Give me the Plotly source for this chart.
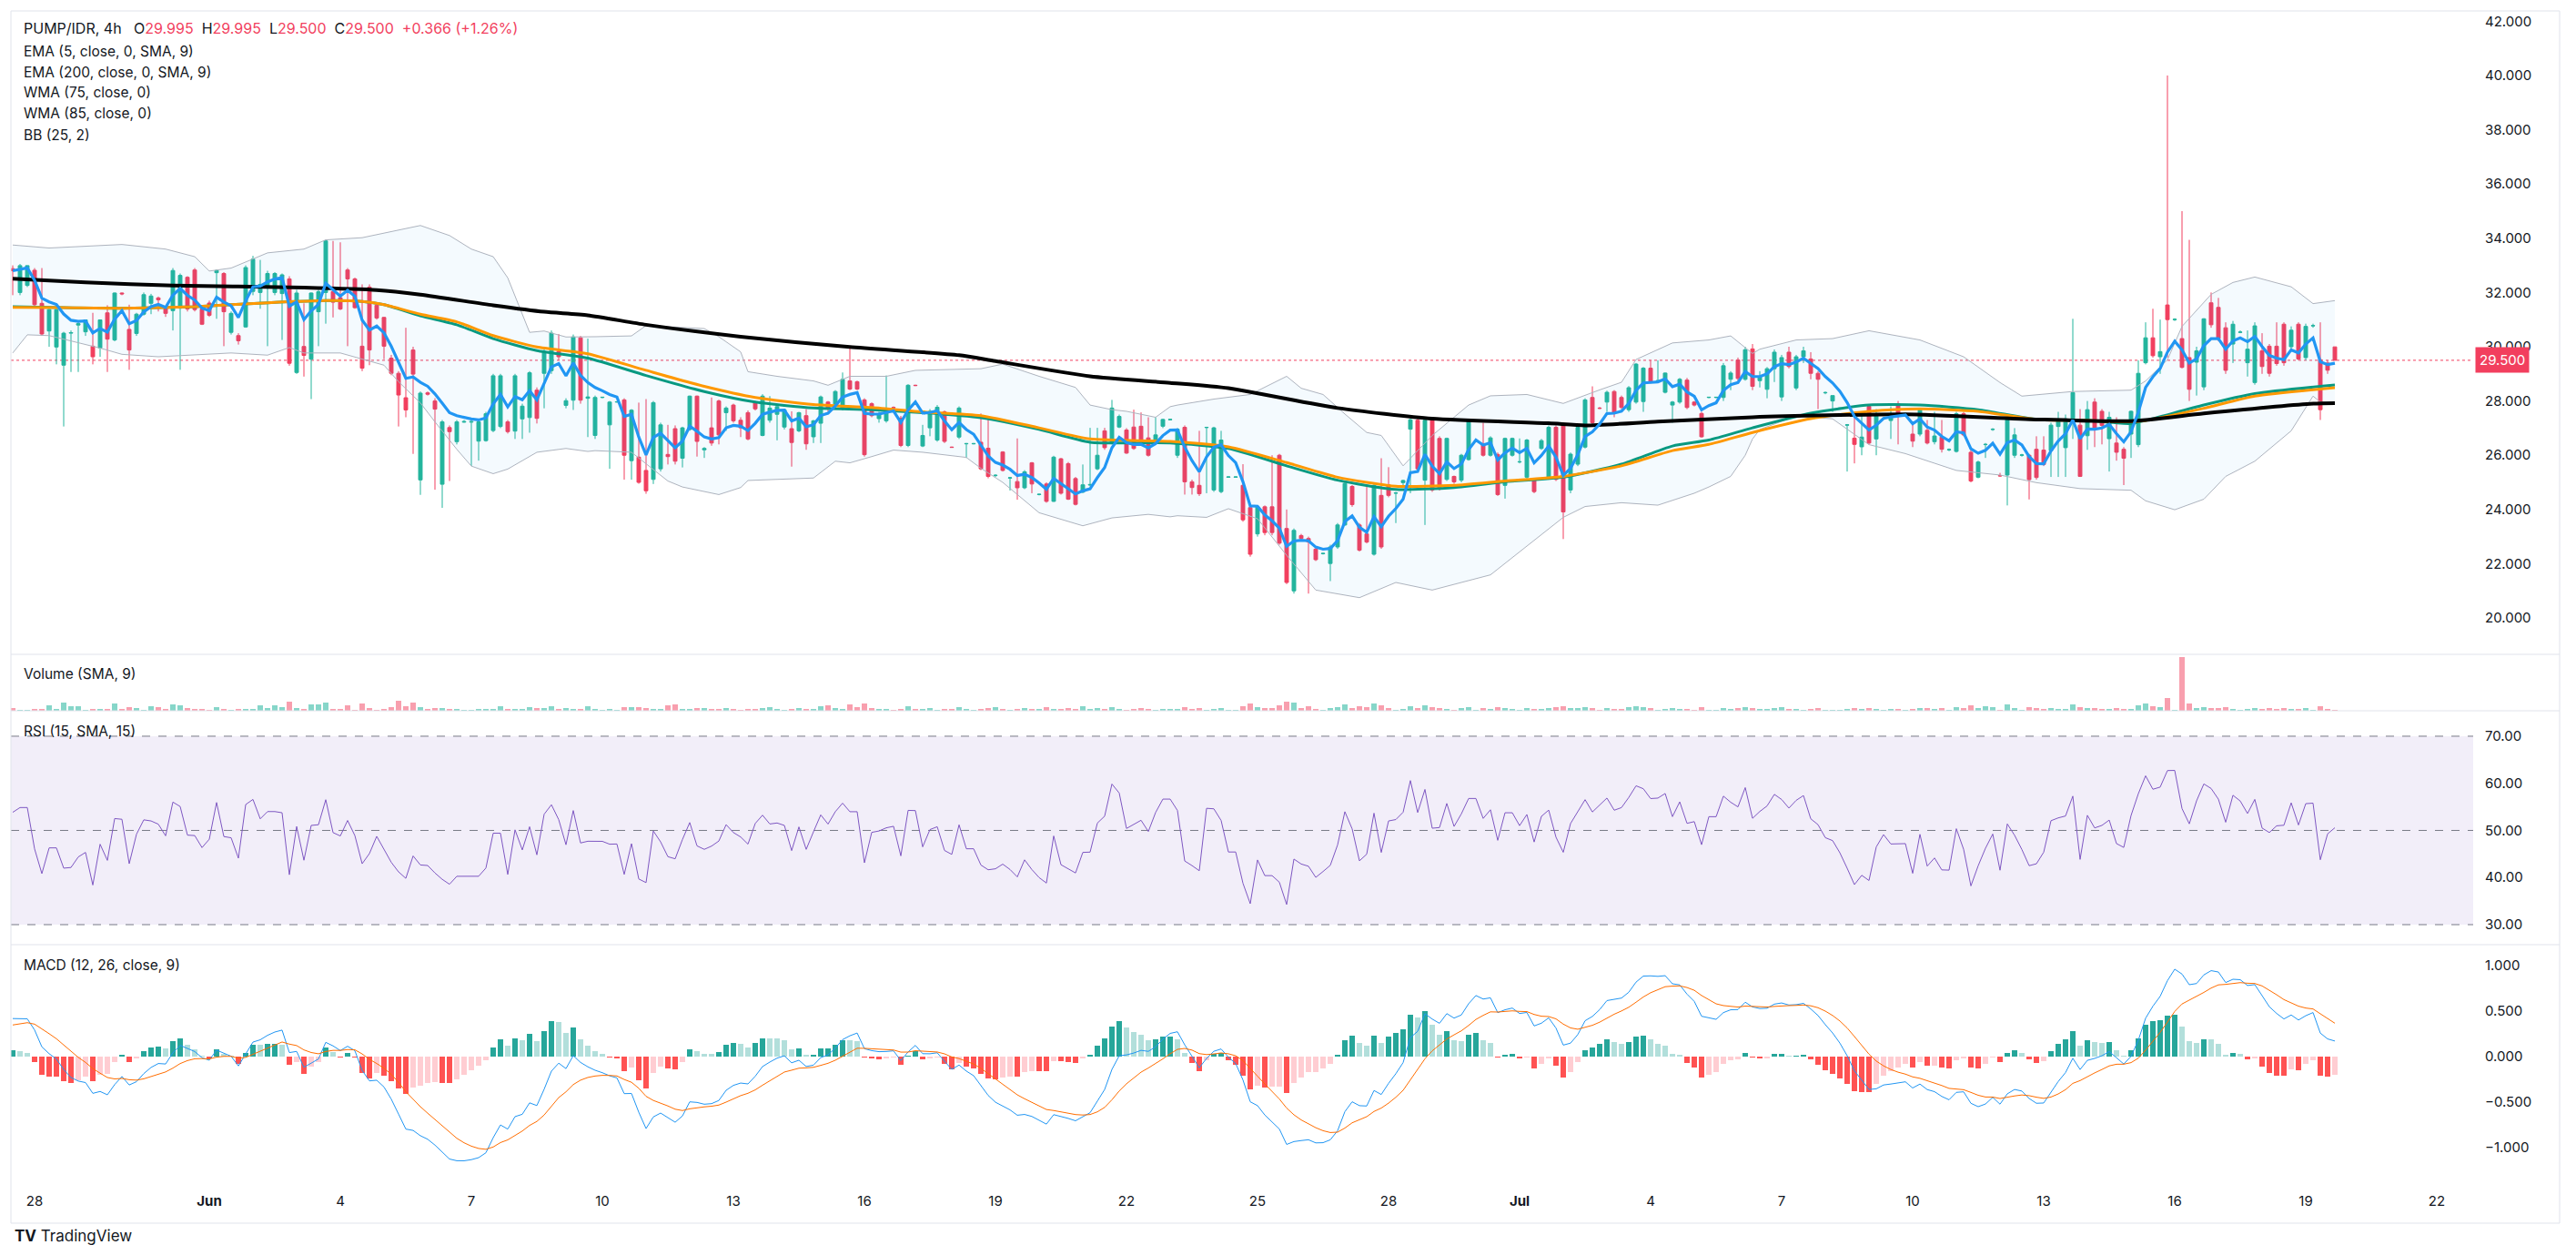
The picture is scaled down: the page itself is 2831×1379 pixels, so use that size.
import numpy as np
import pandas as pd
import plotly.graph_objects as go
from plotly.subplots import make_subplots

# ---------------- data ----------------
SYMBOL = "PUMP/IDR, 4h"
START = "2025-05-27 12:00"   # first 4h candle

OPEN = [
    32.88,32.00,32.26,32.82,31.60,30.58,29.99,29.32,30.50,30.80,
    30.55,30.02,29.95,31.25,30.25,31.98,30.64,30.49,31.20,31.60,
    31.80,31.42,31.33,31.42,32.56,32.83,31.39,31.61,32.73,32.70,
    30.53,30.41,30.73,32.04,32.00,32.20,32.00,31.96,32.50,29.05,
    30.01,29.54,31.29,32.00,32.04,31.81,32.83,32.50,30.02,32.20,
    31.53,31.08,29.58,29.02,28.12,29.88,25.09,28.30,28.00,24.93,
    27.02,26.50,27.22,27.22,26.52,26.54,26.91,27.06,27.23,26.89,
    27.34,27.39,28.40,29.02,29.12,29.83,27.84,28.03,30.33,28.10,
    26.73,28.13,27.12,27.96,28.04,25.80,25.93,25.44,25.11,25.50,
    26.03,26.98,25.89,26.95,28.18,26.20,27.01,28.00,27.57,27.85,
    27.29,27.57,27.96,26.73,27.29,27.51,27.04,26.98,26.90,27.46,
    26.68,27.18,27.96,27.88,27.71,28.74,28.71,28.04,27.90,27.35,
    27.27,27.76,27.37,26.36,28.58,26.34,27.01,26.56,27.60,26.30,
    26.67,26.42,26.42,26.48,26.26,25.25,26.12,25.16,25.03,24.80,
    25.72,24.55,24.94,24.30,25.87,25.69,25.14,24.64,24.90,25.50,
    26.90,26.43,27.04,26.93,27.04,27.07,26.64,26.45,27.07,27.31,
    26.00,27.03,25.02,24.89,27.02,24.72,24.66,25.19,25.19,24.89,
    24.07,23.10,24.10,24.10,26.00,23.30,21.00,23.04,22.93,22.54,
    22.37,22.01,22.62,23.43,24.85,23.43,23.10,22.35,24.52,24.91,
    24.60,24.99,26.96,27.29,25.08,27.29,26.62,25.11,25.22,25.08,
    25.84,27.26,26.43,26.00,26.03,24.89,26.00,25.75,25.19,25.11,
    26.25,25.19,27.03,27.12,24.72,25.67,26.30,28.13,27.74,27.96,
    28.35,28.13,27.68,27.96,27.98,29.21,28.74,28.32,27.85,27.96,
    28.77,27.96,27.54,28.13,28.13,28.13,28.80,29.51,28.80,29.92,
    28.75,28.43,29.19,28.15,29.80,28.48,29.63,29.55,29.02,28.30,
    28.00,27.73,27.11,26.63,26.31,27.80,26.60,27.85,27.28,27.90,
    27.53,26.78,26.78,26.92,26.50,26.67,26.20,26.14,27.53,26.11,
    25.19,26.39,26.95,25.25,25.27,26.00,26.00,26.00,26.22,26.19,
    26.17,27.06,26.28,27.31,27.11,26.72,27.96,27.62,26.61,26.45,
    26.22,26.78,26.39,29.41,30.33,29.63,31.54,31.00,30.30,29.60,
    29.43,28.52,31.62,31.45,30.70,30.10,30.53,29.41,28.68,29.85,
    30.02,30.02,30.83,30.00,30.83,29.60,30.77,29.52,29.40,29.995,
]
HIGH = [
    33.00,33.05,33.00,32.90,32.90,31.40,31.40,30.55,30.60,30.90,
    31.00,31.25,31.00,31.53,32.00,32.00,31.55,31.25,32.00,31.95,
    31.85,31.50,32.90,32.70,32.60,32.90,31.45,31.70,32.85,32.75,
    31.30,30.50,33.00,33.35,33.20,32.80,32.75,32.70,32.60,32.10,
    31.60,32.00,32.10,33.95,33.90,33.85,32.90,32.55,32.30,32.30,
    31.60,31.10,29.70,29.10,30.70,30.00,28.35,28.35,28.10,27.30,
    27.10,27.30,27.30,27.30,27.30,27.60,29.00,29.00,27.30,29.00,
    27.90,29.10,28.50,29.90,30.60,30.47,28.10,30.45,30.40,30.30,
    28.20,28.15,28.00,28.00,28.10,27.70,27.94,28.07,28.00,27.20,
    27.12,27.10,27.05,28.20,28.20,26.30,28.13,28.05,27.80,27.90,
    27.40,27.65,28.00,28.25,28.18,27.85,27.70,27.62,27.60,27.70,
    27.30,28.20,28.00,28.40,29.05,30.03,28.75,28.10,27.95,27.60,
    28.94,27.80,27.45,28.62,28.60,27.12,27.70,27.85,27.65,26.32,
    27.80,26.45,26.45,27.54,27.40,25.30,26.15,25.20,26.62,25.45,
    25.75,24.58,25.00,25.98,25.90,25.75,25.20,25.66,27.01,27.01,
    27.01,28.04,27.50,27.00,27.68,27.58,27.40,27.40,27.35,27.33,
    27.00,27.10,25.10,26.90,27.05,27.05,26.90,25.22,25.22,25.67,
    24.10,24.15,24.15,26.00,26.05,24.00,23.30,23.10,23.00,22.60,
    22.40,22.70,23.50,25.00,24.90,23.50,24.83,24.95,25.89,25.56,
    24.65,25.10,27.35,27.35,27.35,27.35,26.70,26.65,25.25,26.05,
    27.30,27.28,27.20,26.70,26.10,26.65,26.65,26.62,26.60,25.15,
    26.60,27.10,27.10,27.20,26.10,27.10,28.10,28.54,27.78,28.38,
    28.40,28.20,28.55,29.40,29.25,29.50,29.50,29.05,28.00,28.85,
    28.85,28.00,27.60,28.15,28.15,29.40,29.10,29.60,30.00,30.10,
    29.10,29.25,29.90,29.70,30.00,29.70,30.00,29.80,29.10,28.35,
    28.20,27.76,27.15,27.50,27.50,27.85,27.70,27.88,27.80,28.00,
    27.56,27.20,27.70,27.30,27.60,27.30,26.25,27.60,27.60,26.20,
    25.80,26.45,27.00,25.35,27.35,27.00,26.05,26.05,26.70,26.70,
    27.20,27.60,27.50,31.03,27.70,28.00,28.10,27.70,27.60,27.40,
    26.30,27.65,29.50,30.90,31.40,31.00,40.00,31.05,35.00,33.94,
    30.00,31.05,32.00,31.80,30.90,30.95,30.60,30.60,30.90,30.50,
    30.10,30.90,30.90,30.75,30.90,30.85,30.85,30.90,29.50,29.995,
]
LOW = [
    31.90,31.90,32.20,31.50,30.40,30.00,29.35,27.06,29.07,29.07,
    30.40,29.35,29.63,29.07,30.20,31.90,29.15,30.40,31.15,31.20,
    31.30,31.10,30.60,29.15,31.30,31.30,30.80,31.10,31.03,30.02,
    30.45,30.08,30.70,31.90,31.40,30.02,31.90,30.25,29.30,29.00,
    28.90,28.07,30.02,30.85,31.08,31.35,30.02,31.40,29.10,29.32,
    31.00,29.54,28.95,27.06,27.40,26.05,24.54,28.20,24.73,24.06,
    25.05,26.40,27.20,25.60,25.80,26.50,26.85,27.00,26.80,26.60,
    26.60,26.83,27.17,27.73,29.00,29.50,27.73,27.67,27.90,26.67,
    26.60,28.10,25.50,27.94,25.10,25.10,24.95,24.58,24.94,25.40,
    25.66,25.66,25.55,26.90,25.95,25.90,26.35,26.40,26.90,27.20,
    26.67,26.55,27.65,26.70,27.20,26.55,26.95,25.58,26.85,26.20,
    26.45,26.45,27.60,27.80,27.65,28.40,28.40,25.95,27.40,27.20,
    27.20,27.72,26.30,26.30,28.55,26.30,26.70,26.50,26.45,26.28,
    26.60,25.90,26.40,25.45,25.15,25.20,25.40,24.70,24.36,24.75,
    24.60,24.52,24.25,24.28,24.55,24.35,24.15,24.60,24.85,25.45,
    26.20,26.40,27.00,26.05,26.20,26.35,25.95,26.40,27.00,27.29,
    25.90,24.55,24.55,24.50,24.60,24.65,24.60,25.17,25.17,23.55,
    22.26,23.00,23.05,23.05,22.70,21.25,20.90,22.90,20.90,22.10,
    22.34,21.36,22.55,23.40,24.10,22.45,22.75,22.30,22.55,24.45,
    23.50,24.90,24.60,25.40,23.43,24.65,24.70,25.05,24.95,25.00,
    25.80,27.24,25.95,25.95,24.50,24.40,25.95,25.70,25.10,24.60,
    26.20,25.15,25.05,22.91,24.60,25.60,26.25,27.10,27.70,27.60,
    27.40,27.70,27.60,27.90,27.60,28.65,28.70,28.28,27.20,27.90,
    27.70,27.80,26.65,28.10,28.10,28.00,28.40,28.75,28.75,28.40,
    28.50,28.10,28.70,28.00,29.20,28.40,29.40,28.80,27.70,28.25,
    27.60,27.70,25.40,25.70,26.00,26.40,26.00,27.82,26.60,26.40,
    27.50,26.30,26.70,26.40,26.40,26.10,26.15,26.10,26.70,25.00,
    25.15,25.90,26.90,25.20,24.15,25.90,25.95,24.37,25.10,25.60,
    25.20,25.20,25.20,26.60,25.20,26.20,26.30,26.40,25.40,25.80,
    24.90,25.90,26.30,29.35,29.60,29.00,29.60,30.95,29.20,28.00,
    28.20,28.40,30.70,30.20,29.00,29.40,30.50,28.90,28.60,29.00,
    28.90,29.30,29.30,29.90,29.50,29.50,30.70,27.30,29.00,29.50,
]
CLOSE = [
    32.80,32.99,32.99,31.55,30.47,31.37,31.37,30.50,30.52,30.85,
    30.99,29.63,30.99,30.28,31.98,31.95,29.88,31.20,31.92,31.87,
    31.73,31.23,32.81,32.63,31.39,31.37,30.83,31.16,32.81,31.29,
    31.23,30.22,32.92,33.23,32.30,32.70,32.70,32.65,29.39,31.98,
    29.68,31.98,32.03,33.90,31.64,31.39,32.50,31.44,29.21,29.88,
    31.06,30.02,29.02,28.22,27.67,28.99,28.29,28.25,27.70,27.23,
    26.87,27.23,27.24,27.24,27.23,27.53,28.93,28.93,26.87,28.93,
    27.81,29.04,27.36,29.83,30.50,29.63,28.01,30.36,28.03,28.15,
    28.13,28.14,27.96,27.97,26.00,27.66,25.00,24.69,27.94,27.12,
    25.95,25.78,27.01,28.18,26.51,26.25,26.45,26.75,27.74,27.27,
    27.01,26.60,27.71,28.18,27.74,27.79,27.68,26.47,27.57,26.42,
    27.27,28.15,27.71,28.35,28.80,28.44,28.44,26.02,27.46,27.53,
    27.68,27.75,26.36,28.58,28.57,26.73,27.62,27.77,26.51,26.29,
    27.74,26.43,26.43,25.50,25.22,25.26,25.44,25.17,24.80,25.39,
    24.94,24.56,24.30,25.93,24.60,24.38,24.19,24.91,24.92,26.00,
    26.28,27.74,27.43,26.08,26.25,26.42,26.00,26.75,27.32,27.32,
    26.96,25.02,24.81,24.58,27.03,27.01,26.56,25.20,25.20,23.62,
    22.35,24.10,23.15,23.15,22.76,21.31,23.23,22.93,22.80,22.15,
    22.38,22.62,23.43,24.96,24.18,22.50,22.80,24.89,22.62,24.52,
    24.61,25.07,27.31,25.50,27.29,24.72,24.77,26.62,25.02,26.00,
    27.27,27.27,26.00,26.64,24.55,26.62,26.62,25.76,26.56,24.66,
    26.54,27.03,25.11,23.91,26.04,27.03,28.04,27.20,27.73,28.32,
    27.57,27.76,28.49,29.36,29.21,28.72,28.75,29.03,27.96,28.80,
    27.76,27.85,26.68,28.14,28.14,29.30,29.03,28.83,29.89,28.54,
    28.90,29.19,29.80,29.60,29.27,29.63,29.85,29.02,28.80,28.31,
    28.20,27.74,27.12,26.40,26.67,26.45,27.45,27.86,27.53,27.53,
    27.54,26.52,27.68,26.45,26.71,26.22,26.21,27.53,26.75,25.05,
    25.75,26.40,26.96,25.24,27.32,26.75,26.01,25.10,25.18,25.66,
    27.11,27.25,27.34,28.31,25.22,27.68,26.95,27.10,27.40,26.11,
    25.89,27.62,29.02,30.33,29.67,29.82,31.00,31.01,29.24,28.43,
    29.85,31.03,30.81,30.30,29.13,30.83,30.54,29.91,30.77,29.27,
    29.02,29.38,29.41,30.61,29.55,30.75,30.78,27.68,29.134,29.50,
]
VOLUME = [
    10,3,2,5,6,18,6,27,16,16,4,6,6,6,24,5,12,9,3,15,
    12,5,21,18,9,6,6,3,12,6,3,6,6,6,18,9,18,12,30,9,
    6,21,21,27,6,6,18,3,24,9,3,6,12,33,15,27,12,6,9,9,
    6,6,3,3,6,6,6,15,6,6,6,12,9,9,15,6,9,6,6,15,
    6,3,6,3,12,12,12,9,6,6,18,21,6,6,9,9,6,6,9,
    6,3,6,6,9,12,6,3,6,9,6,6,15,18,9,6,21,12,24,9,6,
    6,3,6,15,6,6,9,3,6,6,12,6,3,6,9,12,6,3,6,9,
    6,6,12,6,6,9,6,15,6,9,6,12,6,3,6,9,6,3,6,6,
    6,12,6,9,3,6,9,3,3,15,24,12,9,9,18,30,27,9,15,6,
    3,9,12,21,9,15,12,24,18,9,3,6,15,9,18,12,9,6,3,9,
    12,3,9,6,12,9,6,3,9,6,6,9,12,15,9,9,12,9,3,9,
    6,6,12,15,12,9,3,6,9,6,6,3,12,3,3,9,6,9,12,9,
    6,6,9,12,6,6,3,6,9,3,3,3,6,9,6,9,6,3,6,6,
    3,6,9,9,6,9,3,12,9,18,9,15,12,3,21,9,3,12,9,6,
    9,6,6,21,12,9,9,6,6,9,6,6,18,24,15,12,42,3,180,24,
    9,12,9,9,12,6,3,6,9,6,9,6,9,6,6,9,3,15,6,3,
]

# indicator lines that depend on history before the visible window (read at bar indices)
EMA200_IDX = [0,10,22,40,50,56,66,73,79,87,100,115,130,135,148,159,167,182,195,211,216,226,239,260,278,291,301,316,319]
EMA200_VAL = [32.51,32.37,32.26,32.18,32.09,31.92,31.53,31.29,31.16,30.81,30.37,29.99,29.69,29.47,28.91,28.67,28.47,27.74,27.35,27.18,27.10,27.24,27.40,27.51,27.32,27.26,27.54,27.90,27.92]
WMA_IDX = [0,7,15,25,35,43,48,51,56,61,66,72,79,87,95,102,110,118,125,133,141,148,159,167,175,182,190,198,205,213,221,228,233,239,247,255,262,270,278,285,291,293,301,308,319]
WMA75_VAL = [31.45,31.44,31.42,31.48,31.62,31.70,31.67,31.55,31.20,30.92,30.41,29.99,29.74,29.13,28.54,28.13,27.87,27.76,27.60,27.46,27.01,26.60,26.51,26.31,25.73,25.19,24.86,24.89,25.05,25.22,25.61,26.17,26.40,26.84,27.35,27.62,27.71,27.62,27.32,27.28,27.23,27.28,27.73,28.18,28.49]
WMA85_VAL = [31.48,31.44,31.42,31.48,31.62,31.70,31.67,31.55,31.14,30.81,30.30,29.86,29.58,28.94,28.35,27.96,27.74,27.68,27.57,27.38,26.95,26.48,26.45,26.25,25.61,25.08,24.74,24.81,25.02,25.19,25.67,26.34,26.56,27.01,27.55,27.85,27.85,27.68,27.32,27.28,27.17,27.28,27.85,28.27,28.59]
BBU_IDX = [0,5,15,21,25,27,30,35,40,43,48,53,56,60,63,66,68,71,73,76,79,
           80,85,87,95,97,100,101,105,110,112,115,120,124,133,136,141,146,148,151,153,157,159,
           160,165,170,175,177,180,183,186,188,191,195,200,203,208,213,218,221,223,228,233,236,239,
           240,245,250,255,262,268,273,276,283,291,293,296,298,302,305,308,311,313,316,319]
BBU_VAL = [33.75,33.64,33.77,33.60,33.32,32.79,32.90,33.46,33.60,33.94,34.02,34.31,34.47,34.10,33.60,33.32,32.54,30.53,30.58,30.36,30.36,
           30.37,30.40,30.78,30.67,30.37,29.81,29.08,28.91,28.74,28.58,28.91,28.91,29.13,29.19,29.36,28.91,28.50,27.85,27.68,27.62,27.40,27.79,
           27.85,28.07,28.24,28.91,28.47,28.24,27.52,26.84,26.73,25.61,26.73,27.85,28.19,28.24,27.91,28.41,28.69,29.53,30.14,30.25,30.40,29.75,
           29.91,30.25,30.30,30.59,30.25,29.63,28.68,28.18,28.35,28.40,28.74,29.52,30.75,31.93,32.37,32.57,32.34,32.21,31.59,31.70]
BBL_IDX = [0,2,5,12,15,20,30,35,38,40,45,51,53,56,58,61,63,66,68,72,76,79,
           80,85,90,92,97,100,101,110,113,115,118,121,125,131,133,136,141,147,151,156,159,
           160,164,167,171,175,179,185,190,195,203,208,213,216,221,226,231,233,236,238,239,
           240,245,250,255,260,265,267,273,278,284,291,293,297,301,304,308,313,316,317,319]
BBL_VAL = [29.77,30.44,30.41,29.95,29.72,29.63,29.77,29.69,29.97,29.77,29.77,29.32,28.71,27.93,27.23,26.22,25.60,25.32,25.49,26.11,26.25,26.14,
           26.17,26.11,25.05,24.83,24.55,24.81,25.07,25.16,25.78,25.72,25.95,26.19,26.11,25.92,25.52,25.00,23.88,23.40,23.69,23.82,23.73,
           23.77,23.71,24.03,23.66,22.31,21.03,20.75,21.31,21.03,21.59,22.65,23.71,24.11,24.25,24.16,24.60,24.83,25.22,26.00,26.60,
           26.95,27.45,27.34,26.39,26.06,25.61,25.44,25.27,24.99,24.77,24.71,24.32,23.99,24.38,25.22,25.78,26.90,28.18,27.96,27.90]

TICK_DATES = ["2025-05-28","2025-06-01","2025-06-04","2025-06-07","2025-06-10","2025-06-13","2025-06-16",
              "2025-06-19","2025-06-22","2025-06-25","2025-06-28","2025-07-01","2025-07-04","2025-07-07",
              "2025-07-10","2025-07-13","2025-07-16","2025-07-19","2025-07-22"]
TICK_TEXT = ["28","<b>Jun</b>","4","7","10","13","16","19","22","25","28","<b>Jul</b>","4","7","10","13","16","19","22"]

PRICE_TICKS = [20,22,24,26,28,30,32,34,36,38,40,42]
RSI_TICKS = [30,40,50,60,70]
MACD_TICKS = [-1.0,-0.5,0.0,0.5,1.0]

# seeds for the recursive indicators (values at the left edge of the picture)
RSI_SEED_GAIN, RSI_SEED_LOSS = 0.35, 0.30
EMA12_SEED, EMA26_SEED, SIGNAL_SEED = 32.55, 32.12, 0.33

assert len(OPEN) == len(HIGH) == len(LOW) == len(CLOSE) == len(VOLUME), (len(OPEN), len(HIGH), len(LOW), len(CLOSE), len(VOLUME))

# ---------------- indicators ----------------
t = pd.date_range(START, periods=len(CLOSE), freq="4h")
close = np.array(CLOSE, dtype=float)
opn = np.array(OPEN, dtype=float)

def ema(values, length, seed):
    a = 2.0 / (length + 1)
    out, prev = [], seed
    for v in values:
        prev = prev + a * (v - prev)
        out.append(prev)
    return np.array(out)

def rsi(values, length, g0, l0):
    ag, al, out = g0, l0, []
    for i, v in enumerate(values):
        ch = v - values[i - 1] if i > 0 else 0.0
        ag = (ag * (length - 1) + max(ch, 0.0)) / length
        al = (al * (length - 1) + max(-ch, 0.0)) / length
        out.append(100.0 - 100.0 / (1.0 + ag / al) if al > 0 else 100.0)
    return np.array(out)

ema5 = ema(close, 5, close[0])
rsi15 = rsi(close, 15, RSI_SEED_GAIN, RSI_SEED_LOSS)
macd = ema(close, 12, EMA12_SEED) - ema(close, 26, EMA26_SEED)
signal = ema(macd, 9, SIGNAL_SEED)
hist = macd - signal

UP, DN = "#22B59C", "#F23F5E"
hist_colors = []
for i, h in enumerate(hist):
    p = hist[i - 1] if i > 0 else h
    if h >= 0:
        hist_colors.append("#26A69A" if h >= p else "#B2DFDB")
    else:
        hist_colors.append("#FFCDD2" if h > p else "#FF5252")
vol_colors = ["rgba(34,181,156,0.55)" if c >= o else "rgba(242,63,94,0.5)" for o, c in zip(opn, close)]

# ---------------- figure ----------------
W, H = 2831, 1379
L_PX, R_PX, T_PX, B_PX = 12, 2718, 12, 1296
def py(pix):  # pixel row -> paper y
    return (B_PX - pix) / (B_PX - T_PX)
def px(pix):
    return (pix - L_PX) / (R_PX - L_PX)

fig = make_subplots(rows=4, cols=1, shared_xaxes=True, vertical_spacing=0)
FONT = "Inter, Roboto, Arial, sans-serif"
TXT = "#131722"
bar_w = 4 * 3600 * 1000 * 0.72

# Bollinger band
fig.add_trace(go.Scatter(x=t[BBL_IDX], y=BBL_VAL, mode="lines", line=dict(color="#B2B5BE", width=1),
                         hoverinfo="skip", showlegend=False), row=1, col=1)
fig.add_trace(go.Scatter(x=t[BBU_IDX], y=BBU_VAL, mode="lines", line=dict(color="#B2B5BE", width=1),
                         hoverinfo="skip", showlegend=False), row=1, col=1)
poly_x = list(t[BBU_IDX]) + list(t[BBL_IDX])[::-1]
poly_y = BBU_VAL + BBL_VAL[::-1]
fig.add_trace(go.Scatter(x=poly_x, y=poly_y, mode="none", fill="toself", fillcolor="rgba(33,150,243,0.05)",
                         hoverinfo="skip", showlegend=False), row=1, col=1)

fig.add_trace(go.Candlestick(x=t, open=OPEN, high=HIGH, low=LOW, close=CLOSE,
                             increasing=dict(line=dict(color=UP, width=1), fillcolor=UP),
                             decreasing=dict(line=dict(color=DN, width=1), fillcolor=DN),
                             whiskerwidth=0, showlegend=False), row=1, col=1)

fig.add_trace(go.Scatter(x=t[WMA_IDX], y=WMA85_VAL, mode="lines", line=dict(color="#089981", width=3, shape="spline", smoothing=0.6),
                         showlegend=False), row=1, col=1)
fig.add_trace(go.Scatter(x=t[WMA_IDX], y=WMA75_VAL, mode="lines", line=dict(color="#FF9800", width=3, shape="spline", smoothing=0.6),
                         showlegend=False), row=1, col=1)
fig.add_trace(go.Scatter(x=t[EMA200_IDX], y=EMA200_VAL, mode="lines", line=dict(color="#000000", width=4, shape="spline", smoothing=0.6),
                         showlegend=False), row=1, col=1)
fig.add_trace(go.Scatter(x=t, y=ema5, mode="lines", line=dict(color="#2196F3", width=3.2), showlegend=False), row=1, col=1)

# volume
fig.add_trace(go.Bar(x=t, y=VOLUME, marker=dict(color=vol_colors, line=dict(width=0)), width=bar_w,
                     showlegend=False), row=2, col=1)
# RSI
fig.add_trace(go.Scatter(x=t, y=rsi15, mode="lines", line=dict(color="#7E57C2", width=1), showlegend=False), row=3, col=1)
# MACD
fig.add_trace(go.Bar(x=t, y=hist, marker=dict(color=hist_colors, line=dict(width=0)), width=bar_w,
                     showlegend=False), row=4, col=1)
fig.add_trace(go.Scatter(x=t, y=macd, mode="lines", line=dict(color="#2196F3", width=1), showlegend=False), row=4, col=1)
fig.add_trace(go.Scatter(x=t, y=signal, mode="lines", line=dict(color="#FF6D00", width=1), showlegend=False), row=4, col=1)

x_left = t[0] - pd.Timedelta(hours=1)
x_right = pd.Timestamp("2025-07-22 20:00")

fig.update_xaxes(range=[x_left, x_right], showgrid=False, zeroline=False, showline=False,
                 rangeslider_visible=False, showticklabels=False)
fig.update_xaxes(row=4, col=1, showticklabels=True, tickvals=pd.to_datetime(TICK_DATES), ticktext=TICK_TEXT,
                 ticks="outside", ticklen=10, tickcolor="rgba(0,0,0,0)",
                 tickfont=dict(family=FONT, size=15, color=TXT))

yax_common = dict(side="right", showgrid=False, zeroline=False, showline=False, ticks="outside", ticklen=9,
                  tickcolor="rgba(0,0,0,0)", tickfont=dict(family=FONT, size=15, color=TXT))
fig.update_layout(
    yaxis=dict(domain=[py(719), 1.0], range=[18.66, 42.38], tickvals=PRICE_TICKS, tickformat=".3f", **yax_common),
    yaxis2=dict(domain=[py(781), py(719)], range=[0, 189], showticklabels=False, showgrid=False, zeroline=False),
    yaxis3=dict(domain=[py(1038), py(781)], range=[25.75, 75.4], tickvals=RSI_TICKS, tickformat=".2f", **yax_common),
    yaxis4=dict(domain=[0.0, py(1038)], range=[-1.35, 1.23], tickvals=MACD_TICKS, tickformat=".3f", **yax_common),
)

shapes = []
line_c = "#E0E3EB"
shapes.append(dict(type="rect", xref="paper", yref="paper", x0=px(12), x1=px(2813), y0=py(1344), y1=py(12),
                   line=dict(color=line_c, width=1), fillcolor="rgba(0,0,0,0)", layer="above"))
for yy in (719, 781, 1038):
    shapes.append(dict(type="line", xref="paper", yref="paper", x0=px(12), x1=px(2813), y0=py(yy), y1=py(yy),
                       line=dict(color=line_c, width=1), layer="above"))
shapes.append(dict(type="rect", xref="paper", yref="y3", x0=0, x1=1, y0=30, y1=70,
                   fillcolor="rgba(126,87,194,0.10)", line=dict(width=0), layer="below"))
for lvl in (70, 50, 30):
    shapes.append(dict(type="line", xref="paper", yref="y3", x0=0, x1=1, y0=lvl, y1=lvl,
                       line=dict(color="#787B86", width=1, dash="dash"), layer="below"))
shapes.append(dict(type="line", xref="paper", yref="y", x0=0, x1=1, y0=CLOSE[-1], y1=CLOSE[-1],
                   line=dict(color=DN, width=1, dash="dot"), layer="below"))

nb = "\u00a0"
gap = nb * 2
red = lambda s: f'<span style="color:{DN}">{s}</span>'
chg = CLOSE[-1] - CLOSE[-2]
header = (f"{SYMBOL}{nb * 3}O{red(f'{OPEN[-1]:.3f}')}{gap}H{red(f'{HIGH[-1]:.3f}')}{gap}"
          f"L{red(f'{LOW[-1]:.3f}')}{gap}C{red(f'{CLOSE[-1]:.3f}')}{gap}"
          + red(f"+{chg:.3f}{nb}(+{chg / CLOSE[-2] * 100:.2f}%)"))
legend_lines = [(31, header, 16), (56, "EMA (5, close, 0, SMA, 9)", 15.5), (79, "EMA (200, close, 0, SMA, 9)", 15.5),
                (102, "WMA (75, close, 0)", 15.5), (125, "WMA (85, close, 0)", 15.5), (148, "BB (25, 2)", 15.5),
                (740, "Volume (SMA, 9)", 15.5), (803, "RSI (15, SMA, 15)", 15.5), (1060, "MACD (12, 26, close, 9)", 15.5)]
annotations = []
for yy, txt, fs in legend_lines:
    annotations.append(dict(xref="paper", yref="paper", x=px(24), y=py(yy), text=txt, showarrow=False,
                            xanchor="left", yanchor="middle", font=dict(family=FONT, size=fs, color=TXT)))
annotations.append(dict(xref="paper", yref="y", x=1.0, y=CLOSE[-1], text=f"{CLOSE[-1]:.3f}", showarrow=False,
                        xanchor="left", yanchor="middle", xshift=2, bgcolor=DN, borderpad=4,
                        font=dict(family=FONT, size=15, color="white")))
annotations.append(dict(xref="paper", yref="paper", x=px(14), y=py(1358), text="<b>TV</b> TradingView",
                        showarrow=False, xanchor="left", yanchor="middle",
                        font=dict(family=FONT, size=17, color=TXT)))

fig.update_layout(width=W, height=H, margin=dict(l=L_PX, r=W - R_PX, t=T_PX, b=H - B_PX),
                  paper_bgcolor="white", plot_bgcolor="white", showlegend=False, bargap=0,
                  shapes=shapes, annotations=annotations, hovermode=False,
                  font=dict(family=FONT, color=TXT))

fig.write_html("out.html")
